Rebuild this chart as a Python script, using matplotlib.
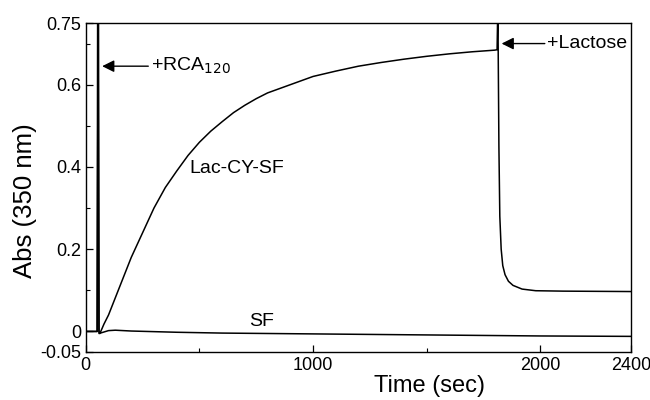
import matplotlib.pyplot as plt
import numpy as np

plt.rcParams['font.family'] = ['Liberation Sans', 'DejaVu Sans']

# Lac-CY-SF trace (time in sec, absorbance at 350 nm)
lac_t = [0, 50, 54, 56, 58, 62, 80, 100, 125, 150, 175, 200, 225, 250, 275,
         300, 350, 400, 450, 500, 550, 600, 650, 700, 750, 800, 900, 1000,
         1100, 1200, 1300, 1400, 1500, 1600, 1700, 1800, 1810, 1812, 1814,
         1818, 1822, 1828, 1835, 1845, 1860, 1880, 1920, 1980, 2100, 2400]
lac_abs = [0, 0, 0.75, 0.75, 0, -0.005, 0.018, 0.04, 0.075, 0.11, 0.145,
           0.18, 0.21, 0.24, 0.27, 0.30, 0.35, 0.39, 0.428, 0.46, 0.487,
           0.51, 0.532, 0.55, 0.566, 0.58, 0.60, 0.62, 0.633, 0.645, 0.654,
           0.662, 0.669, 0.675, 0.68, 0.684, 0.685, 0.75, 0.75, 0.45, 0.28,
           0.20, 0.16, 0.138, 0.122, 0.112, 0.103, 0.099, 0.098, 0.097]

# SF trace
sf_t = [0, 50, 52, 54, 58, 100, 130, 200, 400, 600, 800, 1000, 1400, 1800,
        2000, 2400]
sf_abs = [0, 0, 0.75, 0.75, -0.005, 0.002, 0.003, 0.001, -0.002, -0.004,
          -0.005, -0.006, -0.008, -0.01, -0.011, -0.012]

xticks = [0, 1000, 2000, 2400]
yticks = [-0.05, 0, 0.2, 0.4, 0.6, 0.75]
yticklabels = ['-0.05', '0', '0.2', '0.4', '0.6', '0.75']

fig = plt.figure(figsize=(6.5, 4), dpi=100)
ax = fig.add_axes([0.132, 0.12, 0.839, 0.8225])

ax.plot(lac_t, lac_abs, color='black', lw=1.1)
ax.plot(sf_t, sf_abs, color='black', lw=1.1)

ax.set_xlim(0, 2400)
ax.set_ylim(-0.05, 0.75)
ax.set_xticks(xticks)
ax.set_xticks([500, 1500], minor=True)
ax.set_yticks(yticks)
ax.set_yticklabels(yticklabels)
ax.set_yticks([0.1, 0.3, 0.5, 0.7], minor=True)
ax.tick_params(direction='in', labelsize=13, length=5, width=0.9)
ax.tick_params(which='minor', direction='in', length=3, width=0.8)
for s in ax.spines.values():
    s.set_linewidth(1.0)

ax.set_xlabel('Time (sec)', fontsize=17)
ax.xaxis.set_label_coords(0.63, -0.07)
ax.set_ylabel('Abs (350 nm)', fontsize=18.5)
ax.yaxis.set_label_coords(-0.09, 0.46)

# annotations
ax.annotate('', xy=(72, 0.645), xytext=(275, 0.645),
            arrowprops=dict(arrowstyle='-|>', color='black', lw=1.0,
                            mutation_scale=18, shrinkA=0, shrinkB=0))
ax.text(285, 0.645, '+RCA$_{120}$', fontsize=14, va='center', ha='left')
ax.annotate('', xy=(1830, 0.70), xytext=(2020, 0.70),
            arrowprops=dict(arrowstyle='-|>', color='black', lw=1.0,
                            mutation_scale=18, shrinkA=0, shrinkB=0))
ax.text(2030, 0.70, '+Lactose', fontsize=14, va='center', ha='left')
ax.text(458, 0.395, 'Lac-CY-SF', fontsize=14, va='center', ha='left')
ax.text(720, 0.025, 'SF', fontsize=14, va='center', ha='left')

plt.savefig('out.png', dpi=100)
